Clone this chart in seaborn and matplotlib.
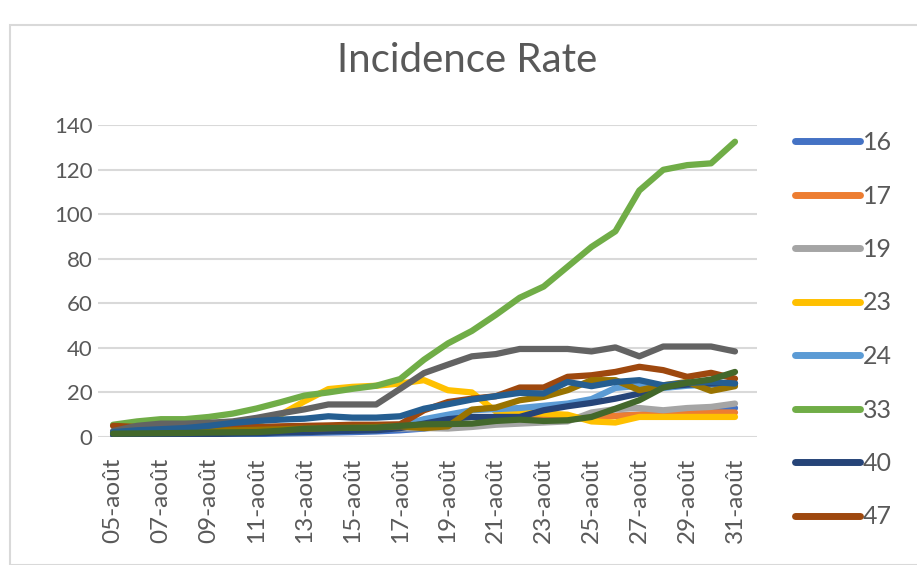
import pandas as pd
import matplotlib
matplotlib.use("Agg")
import matplotlib.pyplot as plt
import seaborn as sns
from matplotlib.lines import Line2D
from matplotlib.patches import Rectangle

# dates 05-août .. 31-août
days = [f"{d:02d}-août" for d in range(5, 32)]

# series visible in the legend
s16 = [0.5, 0.5, 0.6, 0.7, 0.8, 1.0, 1.3, 1.6, 1.8, 2.0, 2.2, 2.5, 3.0, 3.8, 5.0, 5.5, 6.0, 7.0, 7.5, 8.0, 9.0, 9.5, 10.0, 10.5, 11.0, 12.0, 13.0]
s17 = [1.0, 1.2, 1.5, 1.7, 2.0, 2.3, 2.6, 3.0, 3.2, 3.5, 4.0, 4.5, 5.0, 5.0, 5.2, 5.5, 7.5, 8.0, 8.0, 8.5, 9.0, 9.5, 10.0, 10.5, 10.5, 11.0, 11.0]
s19 = [2.0, 2.0, 2.2, 2.3, 2.5, 2.6, 2.8, 3.0, 3.0, 3.2, 3.5, 3.6, 3.8, 4.0, 3.8, 4.5, 5.5, 6.0, 6.5, 7.0, 11.0, 12.5, 13.0, 12.0, 13.0, 13.5, 15.0]
s23 = [2.0, 2.5, 3.0, 3.0, 3.5, 5.0, 6.5, 10.0, 16.0, 21.5, 22.5, 23.0, 24.0, 25.5, 21.0, 20.0, 11.5, 11.0, 10.5, 10.0, 7.0, 6.5, 9.0, 9.0, 9.0, 9.0, 9.0]
s24 = [1.0, 1.0, 1.0, 1.2, 1.3, 1.5, 1.8, 2.0, 2.2, 2.5, 2.8, 3.0, 5.0, 8.0, 10.0, 12.0, 12.5, 13.0, 14.0, 15.0, 17.0, 22.0, 23.0, 22.0, 23.0, 23.5, 24.0]
s33 = [5.5, 7.0, 8.0, 8.0, 9.0, 10.5, 12.8, 15.6, 18.6, 20.0, 21.6, 23.0, 26.0, 34.7, 42.0, 47.6, 54.8, 62.5, 67.5, 76.4, 85.3, 92.3, 110.6, 119.9, 122.0, 122.8, 132.5]
s40 = [1.0, 1.0, 1.0, 1.2, 1.3, 1.5, 1.7, 2.0, 2.2, 2.5, 2.8, 3.0, 4.0, 6.0, 8.0, 9.0, 9.0, 9.0, 12.0, 13.8, 15.3, 17.2, 19.5, 22.5, 23.5, 24.0, 24.0]
s47 = [5.0, 4.5, 4.2, 4.0, 4.0, 4.2, 4.5, 4.8, 5.0, 5.2, 5.5, 5.5, 5.7, 12.0, 15.7, 17.2, 18.3, 22.2, 22.2, 27.0, 27.7, 29.2, 31.5, 30.0, 27.0, 28.8, 26.2]
# series drawn but cut off from the legend
s_dgray = [2.7, 5.0, 6.0, 6.0, 6.4, 7.0, 8.6, 10.6, 12.4, 14.6, 14.6, 14.6, 21.6, 28.7, 32.5, 36.2, 37.2, 39.5, 39.5, 39.5, 38.4, 40.2, 36.2, 40.6, 40.6, 40.6, 38.4]
s_dgold = [2.0, 2.2, 2.5, 2.6, 2.8, 3.0, 3.2, 3.5, 3.8, 4.0, 4.2, 4.5, 4.8, 4.0, 4.8, 12.3, 13.2, 16.5, 18.0, 21.0, 25.5, 25.5, 21.0, 23.2, 24.7, 20.7, 22.8]
s_dteal = [2.2, 3.0, 3.5, 4.0, 5.0, 6.3, 7.2, 7.8, 8.2, 9.3, 8.7, 8.7, 9.3, 12.7, 14.7, 16.8, 18.3, 19.8, 19.5, 24.7, 22.8, 24.7, 25.5, 23.2, 24.3, 24.7, 24.0]
s_dgreen = [1.5, 1.6, 1.7, 1.8, 2.0, 2.1, 2.2, 2.8, 3.7, 4.0, 4.1, 4.2, 5.0, 5.7, 5.8, 6.0, 7.2, 7.8, 7.2, 7.5, 9.0, 12.7, 16.5, 22.2, 24.3, 25.8, 29.2]

names = ["16", "17", "19", "23", "24", "33", "40", "47", "64", "65", "82", "87"]
series = [s16, s17, s19, s23, s24, s33, s40, s47, s_dgray, s_dgold, s_dteal, s_dgreen]
colors = ["#4472C4", "#ED7D31", "#A5A5A5", "#FFC000", "#5B9BD5", "#70AD47",
          "#264478", "#9E480E", "#636363", "#997300", "#255E91", "#43682B"]

rows = []
for name, vals in zip(names, series):
    for i, v in enumerate(vals):
        rows.append({"day": i, "dept": name, "rate": v})
df = pd.DataFrame(rows)

sns.set_style("white")
plt.rcParams['font.family'] = ['Lato', 'DejaVu Sans']
txt = "#595959"

fig = plt.figure(figsize=(9.17, 5.65), dpi=100)
fig.patches.append(Rectangle((10 / 917, 0), 1, 1 - 25 / 565, transform=fig.transFigure,
                             fill=False, edgecolor="#d9d9d9", linewidth=1.5))
ax = fig.add_axes([98 / 917, 128 / 565, 659 / 917, 312 / 565])

sns.lineplot(data=df, x="day", y="rate", hue="dept", palette=dict(zip(names, colors)),
             linewidth=4.5, legend=False, ax=ax, solid_capstyle="round")

ax.set_xlim(-0.63, 26.92)
ax.set_ylim(0, 140)
ax.set_yticks(range(0, 141, 20))
ax.yaxis.grid(True, color="#d9d9d9", linewidth=1.5)
ax.set_axisbelow(True)
ax.set_xticks(range(0, 27, 2))
ax.set_xticklabels([days[i] for i in range(0, 27, 2)], rotation=90)
ax.tick_params(axis="x", colors=txt, labelsize=17.5, length=0, pad=15)
ax.tick_params(axis="y", colors=txt, labelsize=16, length=0, pad=4)
for s in ax.spines.values():
    s.set_visible(False)
ax.set_xlabel("")
ax.set_ylabel("")

fig.text(467 / 917, 1 - 61 / 565, "Incidence Rate", ha="center", va="center",
         fontsize=29, color=txt)

handles = [Line2D([0], [0], color=c, linewidth=5, solid_capstyle="round") for c in colors[:8]]
fig.legend(handles, names[:8], loc="upper left", bbox_to_anchor=(795 / 917, 1 - 131 / 565),
           frameon=False, fontsize=18, labelcolor=txt, handlelength=2.6,
           handletextpad=0.1, labelspacing=1.22, borderpad=0, borderaxespad=0)

fig.savefig("out.png", dpi=100, facecolor="white")
